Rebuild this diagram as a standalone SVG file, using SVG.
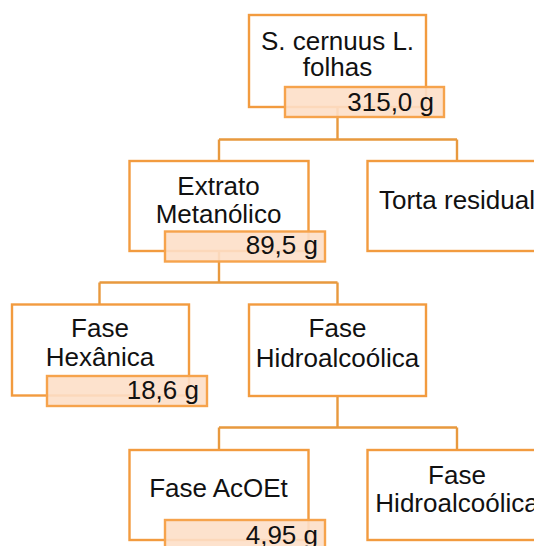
<svg xmlns="http://www.w3.org/2000/svg" width="534" height="546" viewBox="0 0 534 546">
<style>
.box{fill:#fff;stroke:#F29B3F;stroke-width:2.4}
.lbl{fill:#FDDFC8;fill-opacity:0.9;stroke:#F6A34C;stroke-width:2.4}
.con{fill:none;stroke:#E8993E;stroke-width:2.4}
text{font-family:"Liberation Sans",Arial,sans-serif;font-size:26px;fill:#111}
.c{text-anchor:middle}
.r{text-anchor:end}
</style>
<rect width="534" height="546" fill="#fff"/>
<g id="connectors">
<path class="con" d="M337.5 107V139.5M219 139.5H457M219 139.5V161M457 139.5V161"/>
<path class="con" d="M219 251V282.5M99.5 282.5H337.5M99.5 282.5V304M337.5 282.5V304"/>
<path class="con" d="M337.5 396V427.5M219 427.5H457M219 427.5V450M457 427.5V450"/>
</g>
<g id="n1">
<rect class="box" x="249" y="15" width="177" height="92"/>
<text class="c" x="337.5" y="50">S. cernuus L.</text>
<text class="c" x="337.5" y="76">folhas</text>
<rect class="lbl" x="285" y="87" width="159" height="30"/>
<text class="r" x="434" y="111">315,0 g</text>
</g>
<g id="n2">
<rect class="box" x="129.5" y="161" width="179" height="90"/>
<text class="c" x="218.5" y="195">Extrato</text>
<text class="c" x="218.5" y="223">Metanólico</text>
<rect class="lbl" x="165" y="231.5" width="160" height="30"/>
<text class="r" x="318" y="254">89,5 g</text>
</g>
<g id="n3">
<rect class="box" x="367.5" y="161" width="179" height="90"/>
<text class="c" x="457" y="209">Torta residual</text>
</g>
<g id="n4">
<rect class="box" x="12" y="304.5" width="177" height="91"/>
<text class="c" x="100" y="337">Fase</text>
<text class="c" x="100" y="366">Hexânica</text>
<rect class="lbl" x="47" y="376" width="160" height="30"/>
<text class="r" x="199" y="399">18,6 g</text>
</g>
<g id="n5">
<rect class="box" x="249" y="304.5" width="177" height="91.5"/>
<text class="c" x="337.5" y="337">Fase</text>
<text class="c" x="337.5" y="367">Hidroalcoólica</text>
</g>
<g id="n6">
<rect class="box" x="129.5" y="450" width="179" height="90"/>
<text class="c" x="218.5" y="497">Fase AcOEt</text>
<rect class="lbl" x="165" y="520" width="160" height="30"/>
<text class="r" x="318" y="544">4,95 g</text>
</g>
<g id="n7">
<rect class="box" x="367.5" y="450" width="179" height="90"/>
<text class="c" x="457" y="483.5">Fase</text>
<text class="c" x="457" y="512">Hidroalcoólica</text>
</g>
</svg>
